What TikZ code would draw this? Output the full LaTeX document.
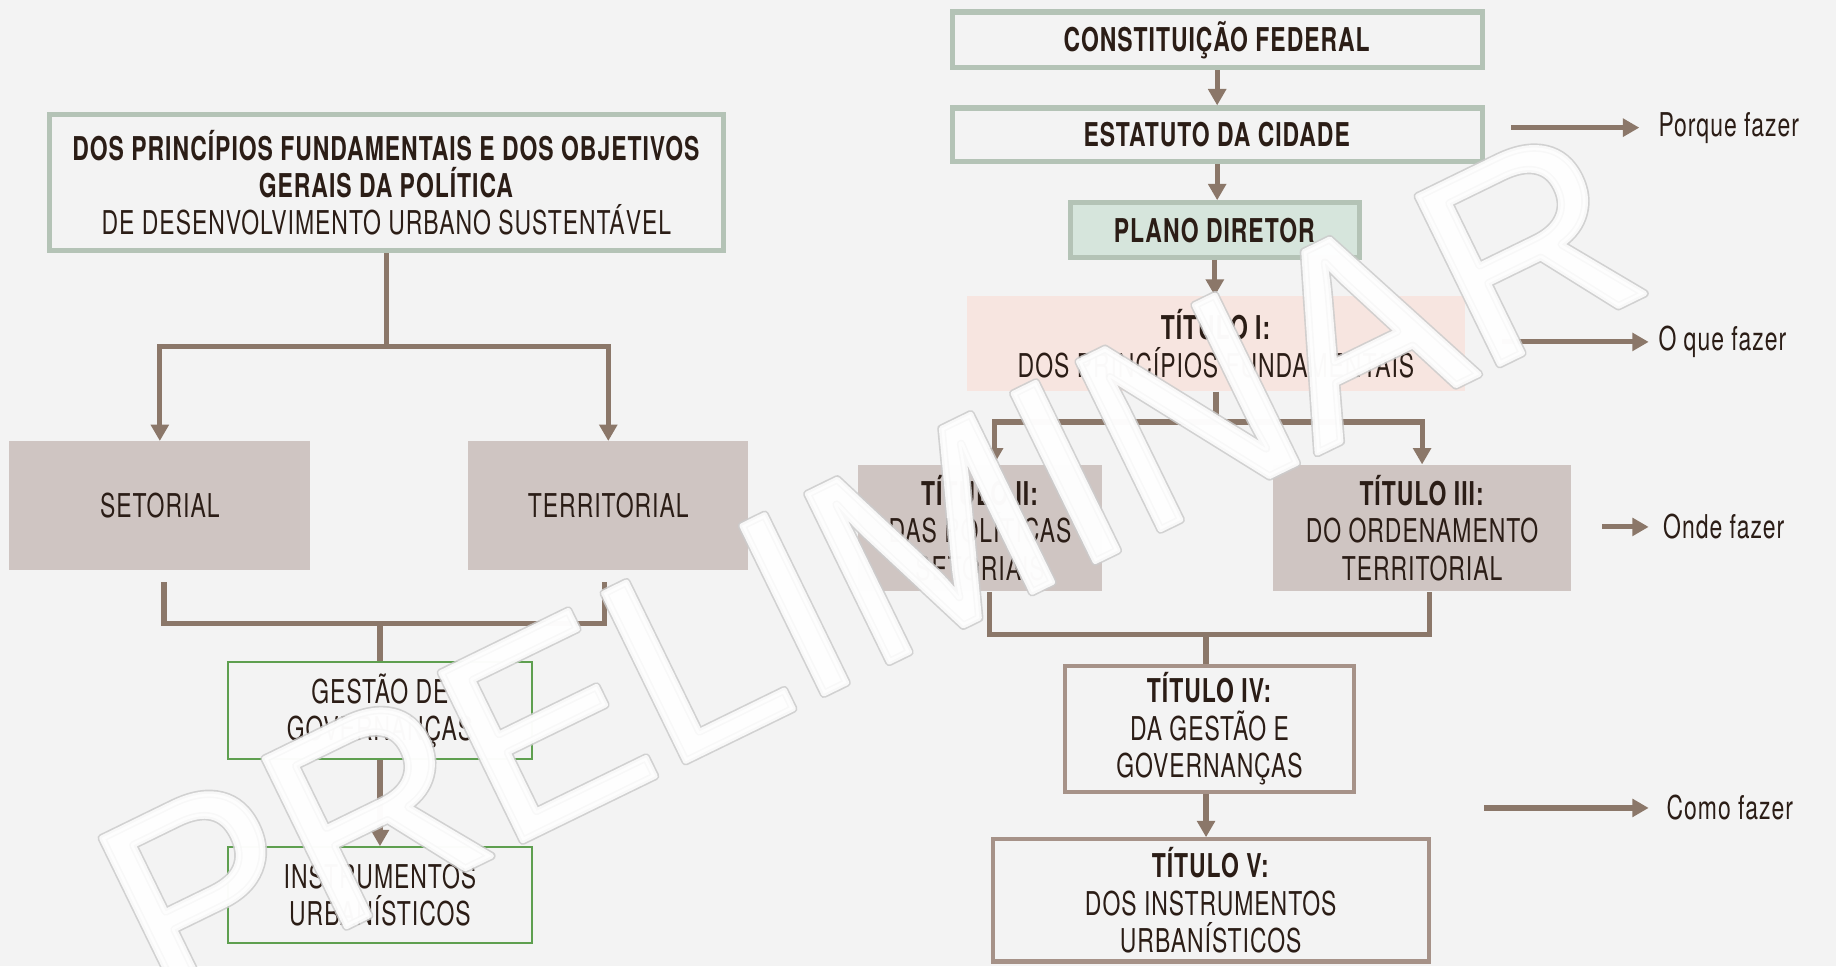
\documentclass[tikz,border=0pt]{standalone}
\usepackage{fontspec}
\setmainfont{TeX Gyre Heros}[FakeStretch=0.70,LetterSpace=3]
\newfontfamily\markfont{Liberation Sans}
\usetikzlibrary{arrows.meta}

\definecolor{bgcol}{HTML}{F3F3F3}
\definecolor{inkcol}{HTML}{2B1D16}
\definecolor{linkcol}{HTML}{8B7769}
\definecolor{sagecol}{HTML}{B4C3B6}
\definecolor{mintcol}{HTML}{D6E5DC}
\definecolor{taupecol}{HTML}{CFC5C2}
\definecolor{blushcol}{HTML}{F7E5E0}
\definecolor{leafcol}{HTML}{5E9F4F}
\definecolor{framecol}{HTML}{A69288}

% outlined watermark text: grey rim under a white letter
\newcommand{\outlinetext}[1]{%
  \rlap{\special{pdf:literal direct 2 Tr 1 j 3.6 w 0.80 0.80 0.80 RG}#1}%
  \special{pdf:literal direct 2 Tr 1 j 2.2 w 1 1 1 RG}#1%
  \special{pdf:literal direct 0 Tr}}

\begin{document}
\begin{tikzpicture}[x=0.5pt,y=-0.5pt,>={Triangle[length=7pt,width=7.5pt]},
    every node/.style={inner sep=0pt,align=center,text=inkcol,font=\fontsize{14}{16}\selectfont},
    link/.style={draw=linkcol,line width=2.2pt},
    sagebox/.style={draw=sagecol,line width=2.2pt,fill=bgcol},
    taupebox/.style={fill=taupecol},
    greenbox/.style={draw=leafcol,line width=0.8pt,fill=bgcol},
    brownbox/.style={draw=framecol,line width=1.8pt,fill=bgcol},
    tag/.style={anchor=west}]
  % background
  \fill[bgcol] (0,0) rectangle (1568,825);
  \useasboundingbox (0,0) rectangle (1568,825);

  % left column
  \node[sagebox,minimum width=288pt,minimum height=58pt] (princ) at (330,156)
    {\textbf{DOS PRINCÍPIOS FUNDAMENTAIS E DOS OBJETIVOS}\\\textbf{GERAIS DA POLÍTICA}\\DE DESENVOLVIMENTO URBANO SUSTENTÁVEL};
  \node[taupebox,minimum width=128.5pt,minimum height=55pt] (setorial) at (136.5,432) {SETORIAL};
  \node[taupebox,minimum width=119.5pt,minimum height=55pt] (territorial) at (519.5,432) {TERRITORIAL};
  \node[greenbox,minimum width=130pt,minimum height=41.5pt] (gestao) at (324.5,607) {GESTÃO DE\\GOVERNANÇAS};
  \node[greenbox,minimum width=130pt,minimum height=41pt] (instr) at (324.5,764.5) {INSTRUMENTOS\\URBANÍSTICOS};

  \path (princ.south) ++(0,80) coordinate (split);
  \draw[link] (princ.south) -- (split);
  \draw[link,->] (split) -| (setorial.north);
  \draw[link,->] (split) -| (territorial.north);
  \path (gestao.north) ++(0,-32) coordinate (join);
  \draw[link] ([xshift=1.75pt,yshift=-5pt]setorial.south) |- (join) -| ([xshift=-1.75pt,yshift=-5pt]territorial.south);
  \draw[link] (join) -- (gestao.north);
  \draw[link,->] (gestao) -- (instr);

  % right column
  \node[sagebox,minimum width=226.3pt,minimum height=23.8pt] (const) at (1039.5,34) {\textbf{CONSTITUIÇÃO FEDERAL}};
  \node[sagebox,minimum width=226.3pt,minimum height=22.8pt] (estatuto) at (1039.5,115) {\textbf{ESTATUTO DA CIDADE}};
  \node[sagebox,fill=mintcol,minimum width=123.3pt,minimum height=23.3pt] (plano) at (1037.5,196.5) {\textbf{PLANO DIRETOR}};
  \node[fill=blushcol,minimum width=212.5pt,minimum height=40.5pt] (tit1) at (1038.5,293.5)
    {\textbf{TÍTULO I:}\\DOS PRINCÍPIOS FUNDAMENTAIS};
  \node[taupebox,minimum width=104pt,minimum height=54pt] (tit2) at (837,451)
    {\textbf{TÍTULO II:}\\DAS POLÍTICAS\\SETORIAIS};
  \node[taupebox,minimum width=127.5pt,minimum height=54pt] (tit3) at (1214.5,451)
    {\textbf{TÍTULO III:}\\DO ORDENAMENTO\\TERRITORIAL};
  \node[brownbox,minimum width=123.2pt,minimum height=53.7pt] (tit4) at (1033,622.5)
    {\textbf{TÍTULO IV:}\\DA GESTÃO E\\GOVERNANÇAS};
  \node[brownbox,minimum width=186.2pt,minimum height=52.2pt] (tit5) at (1034,769)
    {\textbf{TÍTULO V:}\\DOS INSTRUMENTOS\\URBANÍSTICOS};

  \draw[link,->] (const.south) -- (const.south |- estatuto.north);
  \draw[link,->] (estatuto.south) -- (estatuto.south |- plano.north);
  \draw[link,->] (plano.south) -- (plano.south |- tit1.north);
  \path (tit1.south) ++(0,26) coordinate (fork);
  \draw[link] (tit1.south) -- (fork);
  \draw[link,->] (fork) -| ([xshift=6pt]tit2.north);
  \draw[link,->] (fork) -| (tit3.north);
  \path (tit4.north) ++(-3,-25) coordinate (merge);
  \draw[link] ([xshift=4pt]tit2.south) |- (merge) -| ([xshift=3pt]tit3.south);
  \draw[link] (merge) -- (merge |- tit4.north);
  \draw[link,->] (tit4.south -| merge) -- (tit5.north -| merge);

  % side notes
  \node[tag] (why) at (1416,109) {Porque fazer};
  \node[tag] (what) at (1416,292) {O que fazer};
  \node[tag] (where) at (1420,450) {Onde fazer};
  \node[tag] (how) at (1423,690) {Como fazer};
  \draw[link,<-] ([xshift=-8pt]why.west) -- ++(-110,0);
  \draw[link,<-] ([xshift=-4pt]what.west) -- ++(-125,0);
  \draw[link,<-] ([xshift=-6pt]where.west) -- ++(-40,0);
  \draw[link,<-] ([xshift=-7.5pt]how.west) -- ++(-141,0);

  % watermark
  \node[rotate=26,text=white,text opacity=0.85,font=\markfont\fontsize{116}{116}\selectfont] (stamp) at (742,485)
    {\outlinetext{PRELIMINAR}};
\end{tikzpicture}
\end{document}
